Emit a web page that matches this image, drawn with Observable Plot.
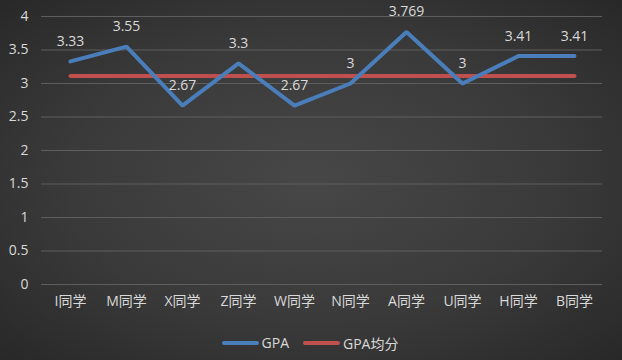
<!DOCTYPE html>
<html><head><meta charset="utf-8">
<script src="https://cdn.jsdelivr.net/npm/d3@7"></script>
<script src="https://cdn.jsdelivr.net/npm/@observablehq/plot@0.6"></script>
<style>
html,body{margin:0;padding:0;}
body{width:622px;height:360px;overflow:hidden;background:radial-gradient(ellipse at 50% 50%, #474747 0%, #3a3a3a 55%, #282828 100%);font-family:"Open Sans","Noto Sans CJK SC",sans-serif;}
#legend{height:35px;display:flex;justify-content:center;align-items:center;color:#d9d9d9;font-size:14px;padding-right:2px;}
.item{display:flex;align-items:center;margin:0 7px;}
.sw{width:37px;height:4px;border-radius:2px;margin-right:3px;}
</style></head>
<body><div id="chart"></div><div id="legend"></div>
<script>
const categories = ["I同学","M同学","X同学","Z同学","W同学","N同学","A同学","U同学","H同学","B同学"];
const gpa = [3.33,3.55,2.67,3.3,2.67,3,3.769,3,3.41,3.41];
const gpaLabels = ["3.33","3.55","2.67","3.3","2.67","3","3.769","3","3.41","3.41"];
const avg = 3.1109;
const yTicks = [0,0.5,1,1.5,2,2.5,3,3.5,4];
const seriesNames = ["GPA","GPA均分"];
const colors = ["#4a7ebb","#c0504d"];

const data = categories.map((c,i)=>({c, v:gpa[i], label:gpaLabels[i], a:avg}));

const chart = Plot.plot({
  width:622, height:325,
  marginLeft:41, marginRight:20, marginTop:16, marginBottom:41,
  style:{background:"transparent", color:"#d9d9d9", fontFamily:'"Open Sans","Noto Sans CJK SC",sans-serif', fontSize:"14px"},
  x:{type:"point", domain:categories, padding:0.5, label:null},
  y:{domain:[0,4], label:null},
  marks:[
    Plot.gridY(yTicks,{stroke:"#5e5e5e", strokeOpacity:1, strokeWidth:1}),
    Plot.axisY({ticks:yTicks, tickFormat:d=>String(d), tickSize:0, tickPadding:13, label:null, fontSize:14, fill:"#d9d9d9"}),
    Plot.axisX({tickSize:0, tickPadding:12, label:null, fontSize:14, fill:"#d9d9d9"}),
    Plot.line(data,{x:"c", y:"a", stroke:colors[1], strokeWidth:4}),
    Plot.line(data,{x:"c", y:"v", stroke:colors[0], strokeWidth:4, strokeLinejoin:"miter"}),
    Plot.text(data,{x:"c", y:"v", text:"label", dy:-20, fill:"#d9d9d9", fontSize:14})
  ]
});
document.getElementById("chart").appendChild(chart);
const lg = document.getElementById("legend");
seriesNames.forEach((n,i)=>{
  const it=document.createElement("div"); it.className="item";
  const sw=document.createElement("div"); sw.className="sw"; sw.style.background=colors[i];
  const t=document.createElement("span"); t.textContent=n;
  it.appendChild(sw); it.appendChild(t); lg.appendChild(it);
});
</script>
</body></html>
